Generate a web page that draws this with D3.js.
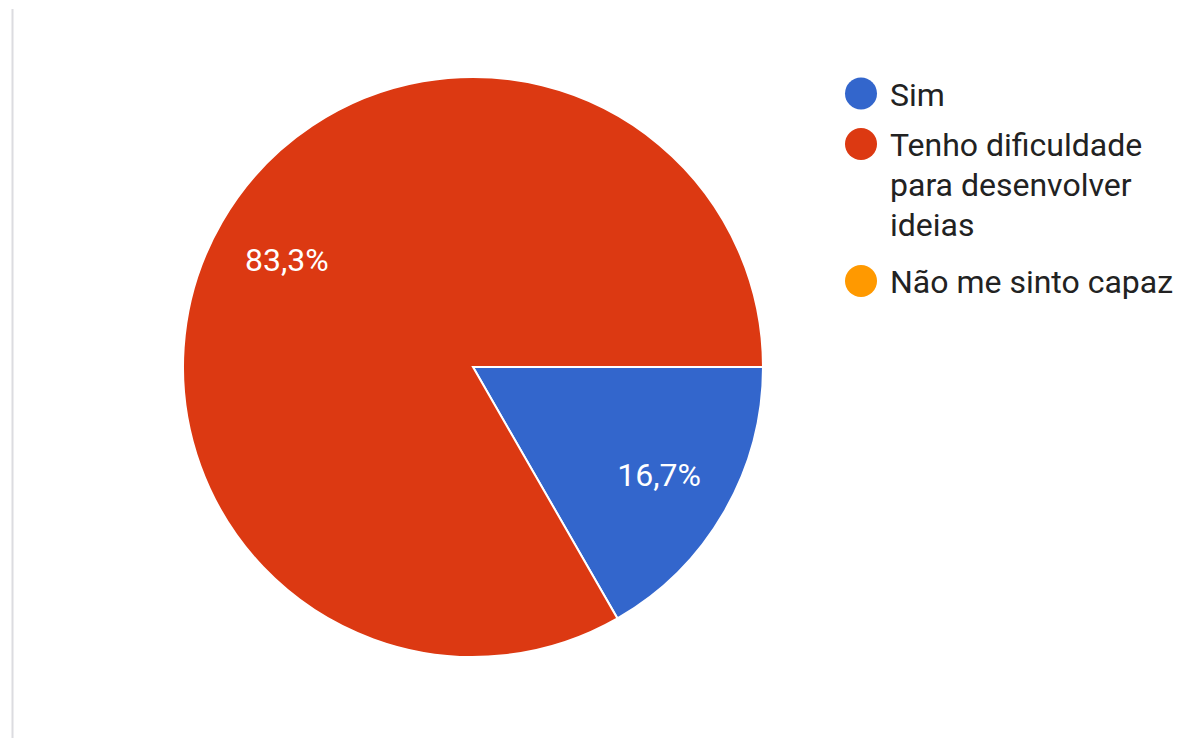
<!DOCTYPE html>
<html>
<head>
<meta charset="utf-8">
<script src="https://cdn.jsdelivr.net/npm/d3@7"></script>
<style>
  html, body { margin: 0; padding: 0; background: #ffffff; }
  svg { display: block; }
</style>
</head>
<body>
<svg id="chart" width="1181" height="738"></svg>
<script>
const categories = ["Sim", "Tenho dificuldade para desenvolver ideias", "Não me sinto capaz"];
const legendLines = [["Sim"], ["Tenho dificuldade", "para desenvolver", "ideias"], ["Não me sinto capaz"]];
const values = [16.7, 83.3, 0];
const labels = ["16,7%", "83,3%", ""];
const colors = ["#3366cc", "#dc3912", "#ff9900"];

const svg = d3.select("#chart");
const cx = 473, cy = 367, R = 290;

svg.append("line")
  .attr("x1", 12.5).attr("x2", 12.5).attr("y1", 9).attr("y2", 738)
  .attr("stroke", "#dcdce0").attr("stroke-width", 2);

const pie = d3.pie().sort(null).value(d => d.v)
  .startAngle(Math.PI / 2).endAngle(Math.PI / 2 + 2 * Math.PI);
const data = categories.map((c, i) => ({ c, v: values[i], color: colors[i], label: labels[i] }));
const arcs = pie(data);
const arc = d3.arc().innerRadius(0).outerRadius(R);

const g = svg.append("g").attr("transform", `translate(${cx},${cy})`);
g.selectAll("path").data(arcs.filter(d => d.data.v > 0)).join("path")
  .attr("d", arc)
  .attr("fill", d => d.data.color)
  .attr("stroke", "#ffffff").attr("stroke-width", 2);

g.selectAll("text").data(arcs.filter(d => d.data.v > 0)).join("text")
  .attr("transform", d => {
    const a = (d.startAngle + d.endAngle) / 2;
    const r = 215;
    return `translate(${r * Math.sin(a)},${-r * Math.cos(a)})`;
  })
  .attr("text-anchor", "middle")
  .attr("dy", "0.355em")
  .attr("fill", "#ffffff")
  .attr("font-family", "Roboto, sans-serif")
  .attr("font-size", 32)
  .text(d => d.data.label);

const legendY = [93.5, 144, 281];
const lg = svg.append("g");
legendLines.forEach((lines, i) => {
  lg.append("circle").attr("cx", 861).attr("cy", legendY[i]).attr("r", 16).attr("fill", colors[i]);
  lines.forEach((t, j) => {
    lg.append("text")
      .attr("x", 890).attr("y", legendY[i] + 12 + j * 40)
      .attr("fill", "#222222")
      .attr("font-family", "Roboto, sans-serif")
      .attr("font-size", 32)
      .text(t);
  });
});
</script>
</body>
</html>
